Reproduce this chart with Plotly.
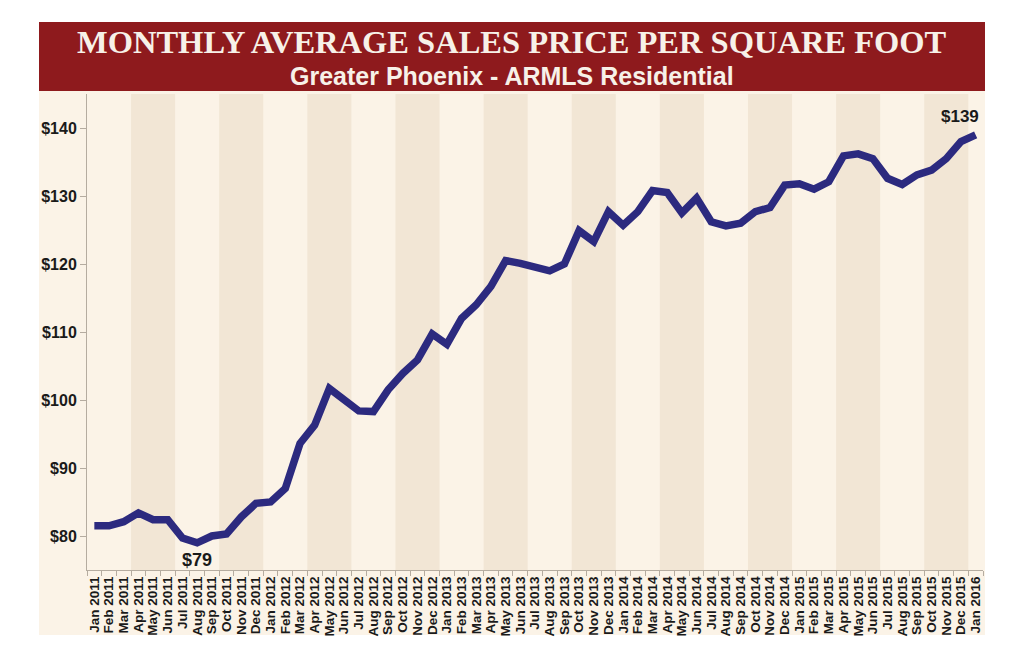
import plotly.graph_objects as go

# monthly average sales price per sq ft, Jan 2011 - Jan 2016
months = ["Jan", "Feb", "Mar", "Apr", "May", "Jun",
          "Jul", "Aug", "Sep", "Oct", "Nov", "Dec"]
labels = [m + " " + str(y) for y in range(2011, 2016) for m in months] + ["Jan 2016"]

price = [81.5, 81.5, 82.1, 83.4, 82.4, 82.4, 79.7, 79.0, 80.0, 80.3, 82.8, 84.8,
         85.0, 87.0, 93.6, 96.3, 101.7, 100.0, 98.4, 98.3, 101.5, 103.9, 105.9, 109.7,
         108.2, 112.0, 114.0, 116.7, 120.5, 120.1, 119.5, 119.0, 120.0, 124.9, 123.3, 127.7,
         125.7, 127.7, 130.8, 130.5, 127.5, 129.7, 126.2, 125.6, 126.0, 127.7, 128.3, 131.6,
         131.8, 131.0, 132.1, 135.9, 136.2, 135.5, 132.6, 131.7, 133.1, 133.8, 135.5, 138.0,
         139.0]

yticks = [80, 90, 100, 110, 120, 130, 140]

W, H = 1024, 658
L, R, T, B = 87, 41, 94, 88
pw, ph = W - L - R, H - T - B


def px(x):
    return (x - L) / pw


def py(y):
    return (H - B - y) / ph


fig = go.Figure()

fig.add_trace(go.Scatter(
    x=labels, y=price, mode="lines",
    line=dict(color="#2c2a7f", width=7.5),
    hoverinfo="x+y",
))

shapes = []
# cream panel and red title banner
shapes.append(dict(type="rect", xref="paper", yref="paper", layer="below",
                   x0=px(39), x1=px(985), y0=py(635), y1=py(91),
                   fillcolor="#fbf3e7", line=dict(width=0)))
shapes.append(dict(type="rect", xref="paper", yref="paper",
                   x0=px(39), x1=px(985), y0=py(91), y1=py(22),
                   fillcolor="#8e1a1d", line=dict(width=0)))
# alternating quarter stripes
for q in range(0, len(labels), 3):
    if (q // 3) % 2 == 1:
        shapes.append(dict(type="rect", xref="x", yref="paper", layer="below",
                           x0=q - 0.5, x1=min(q + 2.5, len(labels) - 0.5), y0=0, y1=1,
                           fillcolor="#f2e6d5", line=dict(width=0)))

annotations = [
    dict(xref="paper", yref="paper", x=px(512), y=py(42),
         text="<b>MONTHLY AVERAGE SALES PRICE PER SQUARE FOOT</b>", showarrow=False,
         font=dict(family="Liberation Serif", size=32.5, color="#f7f1e8"),
         xanchor="center", yanchor="middle"),
    dict(xref="paper", yref="paper", x=px(512), y=py(76),
         text="<b>Greater Phoenix - ARMLS Residential</b>", showarrow=False,
         font=dict(family="Liberation Sans", size=25, color="#f7f1e8"),
         xanchor="center", yanchor="middle"),
    dict(x=labels[price.index(min(price))], y=min(price), text="<b>$79</b>",
         showarrow=False, yshift=-17,
         font=dict(family="Liberation Sans", size=18, color="#1a1a1a")),
    dict(x=labels[-1], y=price[-1], text="<b>$139</b>",
         showarrow=False, yshift=18, xanchor="right", xshift=5,
         font=dict(family="Liberation Sans", size=17, color="#1a1a1a")),
]

fig.update_layout(
    width=W, height=H,
    margin=dict(l=L, r=R, t=T, b=B, pad=0),
    paper_bgcolor="white",
    plot_bgcolor="#fbf3e8",
    showlegend=False,
    shapes=shapes,
    annotations=annotations,
    xaxis=dict(
        type="category", range=[-0.5, len(labels) - 0.5],
        tickmode="array", tickvals=labels, ticktext=["<b>" + s + "</b>" for s in labels],
        tickangle=-90, tickson="boundaries", ticks="outside", ticklen=5,
        tickcolor="#b5aca0", showline=True, linecolor="#b5aca0", linewidth=1,
        showgrid=False, zeroline=False,
        tickfont=dict(family="Liberation Sans", size=13.5, color="#1a1a1a"),
        fixedrange=True,
    ),
    yaxis=dict(
        range=[75, 145], tickmode="array", tickvals=yticks,
        ticktext=["<b>$" + str(v) + "</b>" for v in yticks],
        ticks="outside", ticklen=6, tickcolor="#b5aca0",
        showline=True, linecolor="#b5aca0", linewidth=1,
        showgrid=False, zeroline=False,
        tickfont=dict(family="Liberation Sans", size=16, color="#1a1a1a"),
        fixedrange=True,
    ),
)

fig.write_html("out.html", config={"displayModeBar": False},
               post_script="document.body.style.margin='0';document.body.style.overflow='hidden';")
